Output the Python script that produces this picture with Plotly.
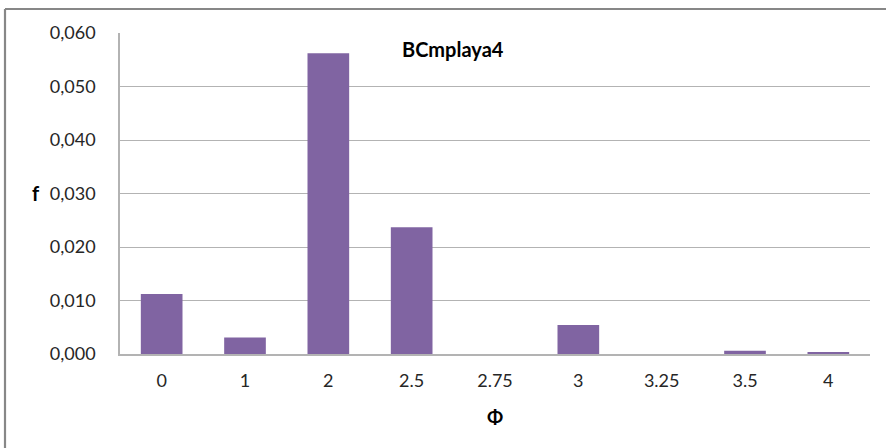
import plotly.graph_objects as go

# Grain-size classes (phi) and frequency
phi_labels = ["0", "1", "2", "2.5", "2.75", "3", "3.25", "3.5", "4"]
freq = [0.0112, 0.0031, 0.0562, 0.0237, 0.0, 0.0054, 0.0, 0.0006, 0.00025]
y_ticks = [0.0, 0.01, 0.02, 0.03, 0.04, 0.05, 0.06]

W, H = 886, 448
ML, MR, MT, MB = 120, 16, 33, 94
PW, PH = W - ML - MR, H - MT - MB


def px_x(x):
    return (x - ML) / PW


def px_y(y):
    return (H - MB - y) / PH


FONT = "Lato, Carlito, Calibri, sans-serif"
GRID = "#b3b3b3"

fig = go.Figure(
    go.Bar(
        x=phi_labels,
        y=freq,
        marker=dict(color="#8064a2", line=dict(width=0)),
        width=0.5,
    )
)

fig.update_layout(
    width=W,
    height=H,
    margin=dict(l=ML, r=MR, t=MT, b=MB),
    paper_bgcolor="white",
    plot_bgcolor="white",
    separators=",.",
    showlegend=False,
    font=dict(family=FONT, size=18, color="#262626"),
    xaxis=dict(
        type="category",
        showgrid=False,
        showline=True,
        linecolor=GRID,
        linewidth=1.5,
        ticks="",
        ticklabelstandoff=10,
        tickfont=dict(size=18, color="#262626"),
    ),
    yaxis=dict(
        range=[0, 0.06],
        tickvals=y_ticks,
        tickformat=".3f",
        showgrid=True,
        gridcolor=GRID,
        gridwidth=1.2,
        showline=True,
        linecolor=GRID,
        linewidth=1.5,
        ticks="",
        zeroline=False,
        ticklabelstandoff=19,
        tickfont=dict(size=18, color="#262626"),
    ),
    shapes=[
        # chart-area frame (top and left edges)
        dict(type="line", xref="paper", yref="paper",
             x0=px_x(5), x1=px_x(W + 5), y0=px_y(9), y1=px_y(9),
             line=dict(color="#878787", width=2.2)),
        dict(type="line", xref="paper", yref="paper",
             x0=px_x(5), x1=px_x(5), y0=px_y(9), y1=px_y(H + 5),
             line=dict(color="#878787", width=2.2)),
    ],
    annotations=[
        dict(text="<b>BCmplaya4</b>", xref="paper", yref="paper",
             x=px_x(453), y=px_y(49), xanchor="center", yanchor="middle",
             showarrow=False,
             font=dict(size=20, color="#000000", family=FONT)),
        dict(text="<b>f</b>", xref="paper", yref="paper",
             x=px_x(36), y=px_y(193), xanchor="center", yanchor="middle",
             showarrow=False,
             font=dict(size=20, color="#000000", family=FONT)),
        dict(text="<b>Φ</b>", xref="paper", yref="paper",
             x=px_x(495), y=px_y(416), xanchor="center", yanchor="middle",
             showarrow=False,
             font=dict(size=19, color="#000000", family=FONT)),
    ],
)

fig.write_html("out.html")
